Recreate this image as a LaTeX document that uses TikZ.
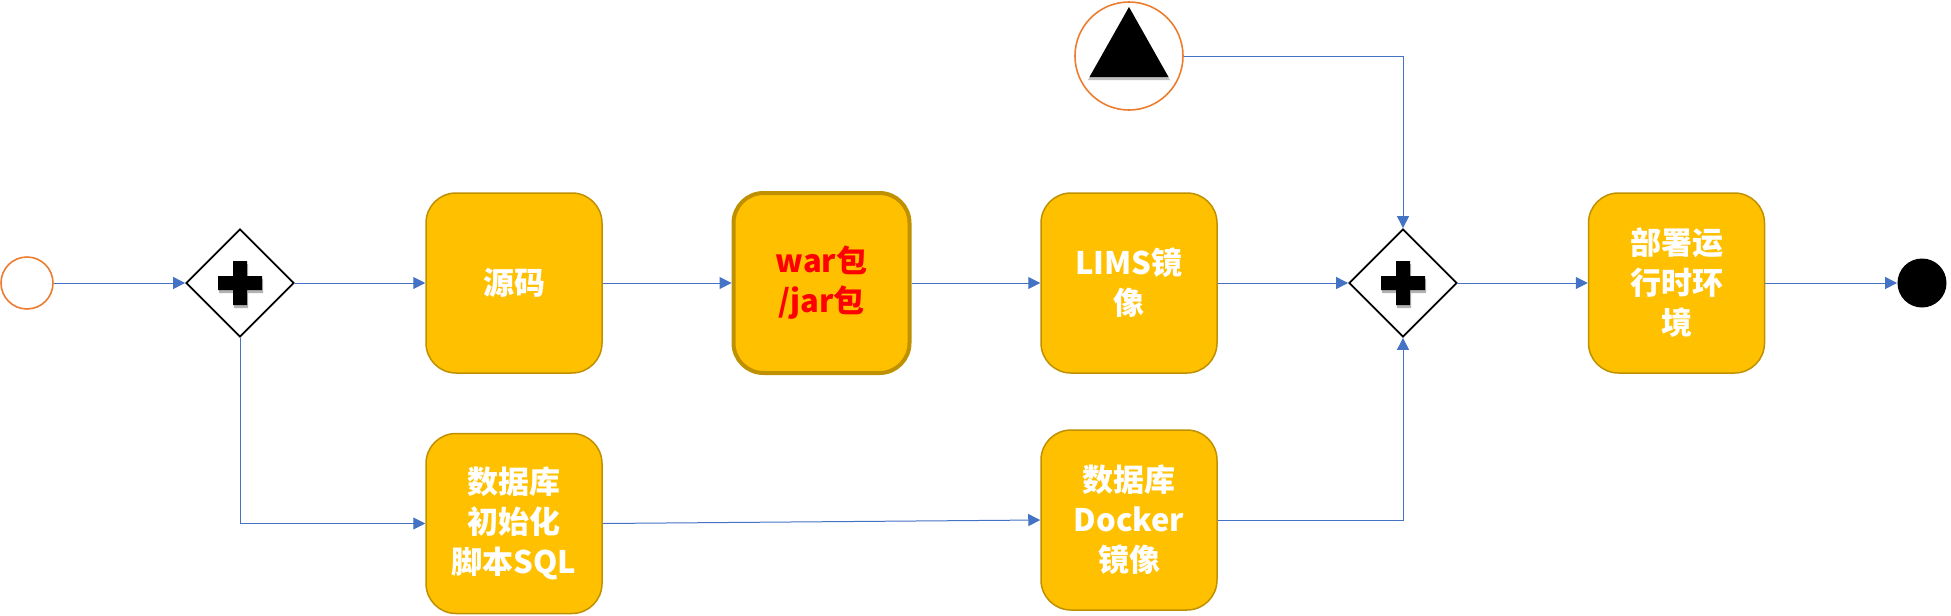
\documentclass[tikz,border=0pt]{standalone}
\usepackage{fontspec}
\setmainfont{Noto Sans CJK SC}
\usetikzlibrary{arrows.meta,shapes.geometric}
\definecolor{boxfill}{HTML}{FFC000}
\definecolor{boxedge}{HTML}{BF9000}
\definecolor{flowblue}{HTML}{4472C4}
\definecolor{eventorange}{HTML}{ED7D31}
\definecolor{warred}{HTML}{FF0000}
\tikzset{
  task/.style={rectangle, rounded corners=15pt, draw=boxedge, line width=0.75pt,
    fill=boxfill, minimum width=88pt, minimum height=90pt, inner sep=0pt,
    text=white, align=center, font=\bfseries\fontsize{15.5}{20}\selectfont},
  gateway/.style={diamond, draw=black, line width=0.9pt, fill=white,
    minimum width=54pt, minimum height=54pt, inner sep=0pt,
    path picture={
      \fill[black!30] ([xshift=-10.5pt,yshift=-5pt]path picture bounding box.center) rectangle ++(22pt,7pt)
        ([xshift=-3pt,yshift=-12.5pt]path picture bounding box.center) rectangle ++(7pt,22pt);
      \fill[black] ([xshift=-11pt,yshift=-3.5pt]path picture bounding box.center) rectangle ++(22pt,7pt)
        ([xshift=-3.5pt,yshift=-11pt]path picture bounding box.center) rectangle ++(7pt,22pt);}},
  flow/.style={draw=flowblue, line width=0.5pt, -{Triangle[length=6pt,width=6pt]}}
}
\begin{document}
\begin{tikzpicture}[x=0.5pt,y=-0.5pt]
\useasboundingbox (0,0) rectangle (1951,616);
% events
\node[circle, draw=eventorange, line width=0.8pt, fill=white, minimum size=26pt, inner sep=0pt] (start) at (27,283) {};
\node[circle, fill=black, minimum size=24.5pt, inner sep=0pt] (stop) at (1922,283) {};
\node[circle, draw=eventorange, line width=0.8pt, fill=white, minimum size=54pt, inner sep=0pt,
  path picture={
    \fill[black!25] ([xshift=-20.5pt,yshift=-12pt]path picture bounding box.center) -- ++(41pt,0pt) -- ++(-20.5pt,35pt) -- cycle;
    \fill[black] ([xshift=-19.75pt,yshift=-10.5pt]path picture bounding box.center) -- ++(39.5pt,0pt) -- ++(-19.75pt,35pt) -- cycle;}] (signal) at (1129,56) {};
%
% gateways
\node[gateway] (fork) at (240,283) {};
\node[gateway] (join) at (1403,283) {};
%
% tasks
\node[task] (src) at (514,283) {源码};
\node[task, line width=2pt, text=warred] (pkg) at (821.5,283) {war包\\/jar包};
\node[task] (limsimg) at (1129,283) {LIMS镜\\像};
\node[task] (deploy) at (1676.5,283) {部署运\\行时环\\境};
\node[task] (sqlinit) at (514,523.5) {数据库\\初始化\\脚本SQL};
\node[task] (dbimg) at (1129,520) {数据库\\Docker\\镜像};
%
% sequence flows
\draw[flow] (start) -- (fork);
\draw[flow] (fork) -- (src);
\draw[flow] (src) -- (pkg);
\draw[flow] (pkg) -- (limsimg);
\draw[flow] (limsimg) -- (join);
\draw[flow] (join) -- (deploy);
\draw[flow] (deploy) -- (stop);
\draw[flow] (fork.south) |- (sqlinit.west);
\draw[flow] (sqlinit.east) -- (dbimg.west);
\draw[flow] (dbimg.east) -| (join.south);
\draw[flow] (signal.east) -| (join.north);
\end{tikzpicture}
\end{document}
